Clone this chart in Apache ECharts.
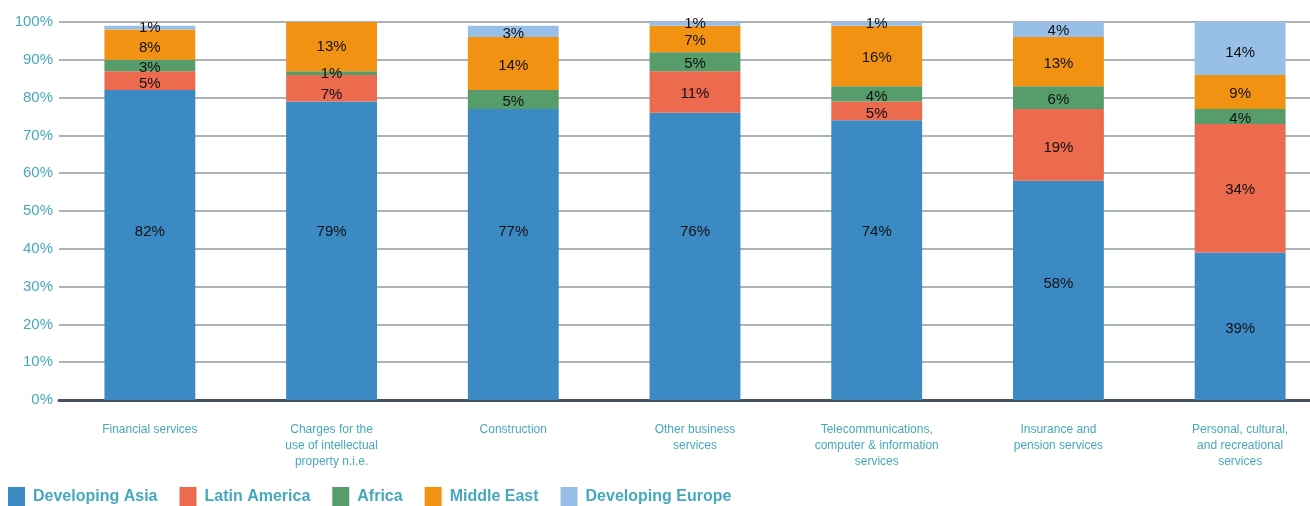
<!DOCTYPE html>
<html lang="en">
<head>
    <meta charset="UTF-8">
    <title>Services by region</title>
    <script src="https://cdn.jsdelivr.net/npm/echarts@6/dist/echarts.min.js"></script>
    <style>
        html, body {
            margin: 0;
            padding: 0;
            background-color: #fff;
            overflow: hidden;
        }
        /* the plot runs a little past the right edge of the picture */
        #chart {
            width: 1331px;
            height: 506px;
        }
    </style>
</head>
<body>
    <div id="chart"></div>

    <script>
        var categories = [
            'Financial services',
            'Charges for the\nuse of intellectual\nproperty n.i.e.',
            'Construction',
            'Other business\nservices',
            'Telecommunications,\ncomputer & information\nservices',
            'Insurance and\npension services',
            'Personal, cultural,\nand recreational\nservices'
        ];
        var yTicks = [0, 10, 20, 30, 40, 50, 60, 70, 80, 90, 100];

        var developingAsia   = [82, 79, 77, 76, 74, 58, 39];
        var latinAmerica     = [5, 7, 0, 11, 5, 19, 34];
        var africa           = [3, 1, 5, 5, 4, 6, 4];
        var middleEast       = [8, 13, 14, 7, 16, 13, 9];
        var developingEurope = [1, 0, 3, 1, 1, 4, 14];

        var seriesNames  = ['Developing Asia', 'Latin America', 'Africa', 'Middle East', 'Developing Europe'];
        var seriesValues = [developingAsia, latinAmerica, africa, middleEast, developingEurope];
        var seriesColors = ['#3b8ac4', '#ec6a4d', '#579c6b', '#f29212', '#98bfe7'];

        // label nudges (px, vertical) so the text sits where the original put it
        var labelShift = [
            [-13, -19, -23, -25, -28, -7, 3],
            [3, 7, 2, 2, 3, 3, 2],
            [2, 1, 2, 2, 3, 2, 2],
            [3, 0, 2, 2, 2, 2, 2],
            [0, 0, 2, 0, 0, 1, 4]
        ];

        var teal = '#45a9bd';
        var font = 'Liberation Sans, Arial, sans-serif';

        var chart = echarts.init(document.getElementById('chart'));

        var series = seriesNames.map(function (name, i) {
            return {
                name: name,
                type: 'bar',
                stack: 'total',
                barWidth: '50%',
                data: seriesValues[i].map(function (v, j) {
                    return { value: v, label: { offset: [0, labelShift[i][j]] } };
                }),
                itemStyle: { color: seriesColors[i] },
                label: {
                    show: true,
                    position: 'inside',
                    color: '#111',
                    fontSize: 15,
                    fontFamily: font,
                    formatter: function (p) {
                        return p.value > 0 ? p.value + '%' : '';
                    }
                },
                emphasis: { disabled: true }
            };
        });

        var option = {
            animation: false,
            grid: {
                left: 59,
                right: 0,
                top: 22,
                height: 378
            },
            legend: {
                data: seriesNames,
                left: 8,
                top: 487,
                padding: 0,
                itemWidth: 17,
                itemHeight: 20,
                itemGap: 22,
                icon: 'rect',
                textStyle: {
                    color: teal,
                    fontSize: 16,
                    fontWeight: 'bold',
                    fontFamily: font,
                    padding: [9, 0, 0, 3]
                }
            },
            xAxis: {
                type: 'category',
                data: categories,
                axisLine: { lineStyle: { color: '#47525c', width: 3 } },
                axisTick: { show: false },
                axisLabel: {
                    color: teal,
                    fontSize: 12,
                    lineHeight: 16,
                    margin: 22,
                    interval: 0,
                    fontFamily: font
                }
            },
            yAxis: {
                type: 'value',
                min: yTicks[0],
                max: yTicks[yTicks.length - 1],
                interval: 10,
                axisLine: { show: false },
                axisTick: { show: false },
                splitLine: { lineStyle: { color: '#92989e', width: 1.5 } },
                axisLabel: {
                    color: teal,
                    fontSize: 15,
                    margin: 6,
                    fontFamily: font,
                    formatter: '{value}%'
                }
            },
            series: series
        };

        chart.setOption(option);
    </script>
</body>
</html>
